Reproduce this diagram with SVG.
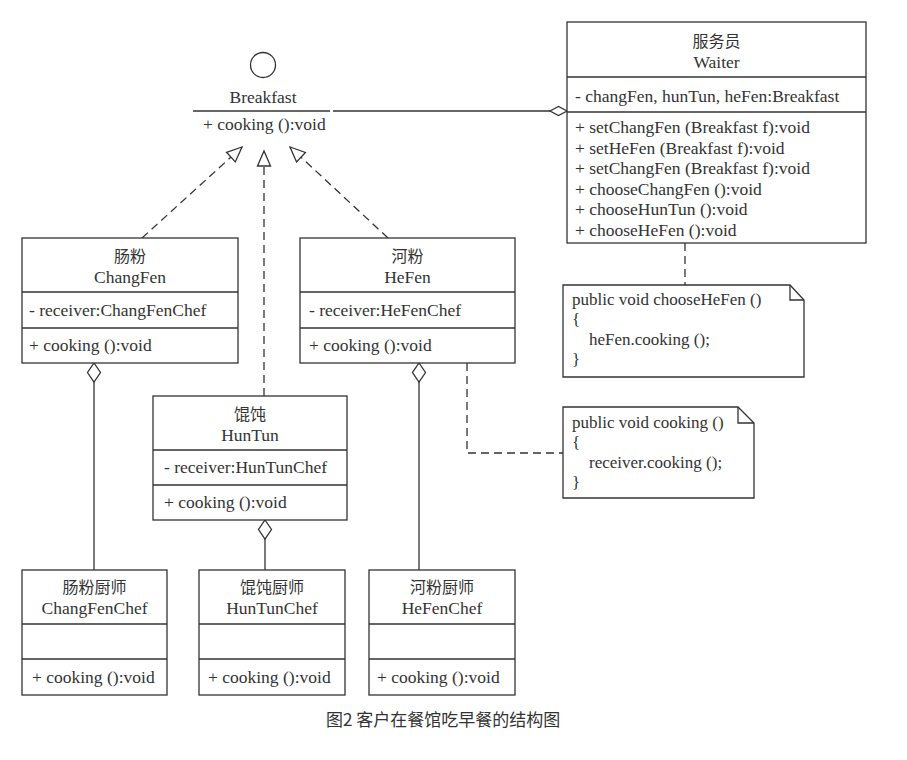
<svg xmlns="http://www.w3.org/2000/svg" width="907" height="760" viewBox="0 0 907 760">
<style>
.bg{fill:#fff}
.box{fill:#fff;stroke:#333;stroke-width:1.3}
.div{stroke:#333;stroke-width:1.3;fill:none}
.t{font-family:"Liberation Serif","Noto Sans CJK SC",serif;font-size:17.5px;fill:#333}
.cn{font-family:"Noto Sans CJK SC","Liberation Serif",sans-serif;font-size:16px;fill:#333}
.c{text-anchor:middle}
.n{font-family:"Liberation Serif",serif;font-size:17px;fill:#333}
.ln{stroke:#333;stroke-width:1.3;fill:none}
.dash{stroke:#333;stroke-width:1.3;fill:none;stroke-dasharray:8 5}
.dia{fill:#fff;stroke:#333;stroke-width:1.3}
.cap{font-family:"Noto Sans CJK SC","Noto Sans",sans-serif;font-size:17px;fill:#333}
</style>
<defs>
<marker id="tri" markerWidth="20" markerHeight="18" refX="16" refY="8" orient="auto" markerUnits="userSpaceOnUse">
<path d="M1,1.5 L16,8 L1,14.5 Z" fill="#fff" stroke="#333" stroke-width="1.3" stroke-dasharray="none"/>
</marker>
</defs>
<rect class="bg" x="0" y="0" width="907" height="760"/>

<g id="connectors">
<line class="ln" x1="333" y1="111" x2="551" y2="111"/>
<polygon class="dia" points="550,111 558.5,106.5 567,111 558.5,115.5"/>
<line class="dash" x1="142" y1="238" x2="242" y2="147" marker-end="url(#tri)"/>
<line class="dash" x1="264" y1="396" x2="264" y2="151" marker-end="url(#tri)"/>
<line class="dash" x1="388" y1="238" x2="290" y2="147" marker-end="url(#tri)"/>
<line class="ln" x1="94" y1="382" x2="94" y2="570"/>
<polygon class="dia" points="94,363 100.5,372.5 94,382 87.5,372.5"/>
<line class="ln" x1="265" y1="539" x2="265" y2="570"/>
<polygon class="dia" points="265,520 271.5,529.5 265,539 258.5,529.5"/>
<line class="ln" x1="419" y1="382" x2="419" y2="570"/>
<polygon class="dia" points="419,363 425.5,372.5 419,382 412.5,372.5"/>
<line class="dash" x1="685" y1="243" x2="685" y2="285"/>
<polyline class="dash" points="467,363 467,453 563,453"/>
</g>

<g id="breakfast">
<circle cx="263" cy="65" r="12.5" fill="#fff" stroke="#333" stroke-width="1.3"/>
<text class="t c" x="263" y="103">Breakfast</text>
<line class="ln" x1="193" y1="111" x2="330" y2="111"/>
<text class="t" x="203" y="130">+ cooking ():void</text>
</g>

<g id="waiter">
<rect class="box" x="567" y="22" width="299" height="221"/>
<line class="div" x1="567" y1="77" x2="866" y2="77"/>
<line class="div" x1="567" y1="112" x2="866" y2="112"/>
<text class="cn c" x="716.5" y="47">服务员</text>
<text class="t c" x="716.5" y="68">Waiter</text>
<text class="t" x="575" y="102">- changFen, hunTun, heFen:Breakfast</text>
<text class="t" x="575" y="133">+ setChangFen (Breakfast f):void</text>
<text class="t" x="575" y="154">+ setHeFen (Breakfast f):void</text>
<text class="t" x="575" y="174">+ setChangFen (Breakfast f):void</text>
<text class="t" x="575" y="195">+ chooseChangFen ():void</text>
<text class="t" x="575" y="215">+ chooseHunTun ():void</text>
<text class="t" x="575" y="236">+ chooseHeFen ():void</text>
</g>

<g id="changfen">
<rect class="box" x="22" y="238" width="216" height="125"/>
<line class="div" x1="22" y1="292" x2="238" y2="292"/>
<line class="div" x1="22" y1="328" x2="238" y2="328"/>
<text class="cn c" x="130" y="262">肠粉</text>
<text class="t c" x="130" y="283">ChangFen</text>
<text class="t" x="29" y="316">- receiver:ChangFenChef</text>
<text class="t" x="29" y="351">+ cooking ():void</text>
</g>

<g id="hefen">
<rect class="box" x="300" y="238" width="215" height="125"/>
<line class="div" x1="300" y1="292" x2="515" y2="292"/>
<line class="div" x1="300" y1="328" x2="515" y2="328"/>
<text class="cn c" x="407.5" y="262">河粉</text>
<text class="t c" x="407.5" y="283">HeFen</text>
<text class="t" x="309" y="316">- receiver:HeFenChef</text>
<text class="t" x="309" y="351">+ cooking ():void</text>
</g>

<g id="huntun">
<rect class="box" x="153" y="396" width="194" height="124"/>
<line class="div" x1="153" y1="450" x2="347" y2="450"/>
<line class="div" x1="153" y1="485" x2="347" y2="485"/>
<text class="cn c" x="250" y="420">馄饨</text>
<text class="t c" x="250" y="441">HunTun</text>
<text class="t" x="164" y="473">- receiver:HunTunChef</text>
<text class="t" x="164" y="508">+ cooking ():void</text>
</g>

<g id="changfenchef">
<rect class="box" x="22" y="570" width="145" height="125"/>
<line class="div" x1="22" y1="624" x2="167" y2="624"/>
<line class="div" x1="22" y1="659" x2="167" y2="659"/>
<text class="cn c" x="94.5" y="593">肠粉厨师</text>
<text class="t c" x="94.5" y="614">ChangFenChef</text>
<text class="t" x="32" y="683">+ cooking ():void</text>
</g>

<g id="huntunchef">
<rect class="box" x="199" y="570" width="146" height="125"/>
<line class="div" x1="199" y1="624" x2="345" y2="624"/>
<line class="div" x1="199" y1="659" x2="345" y2="659"/>
<text class="cn c" x="272" y="593">馄饨厨师</text>
<text class="t c" x="272" y="614">HunTunChef</text>
<text class="t" x="208" y="683">+ cooking ():void</text>
</g>

<g id="hefenchef">
<rect class="box" x="369" y="570" width="146" height="125"/>
<line class="div" x1="369" y1="624" x2="515" y2="624"/>
<line class="div" x1="369" y1="659" x2="515" y2="659"/>
<text class="cn c" x="442" y="593">河粉厨师</text>
<text class="t c" x="442" y="614">HeFenChef</text>
<text class="t" x="377" y="683">+ cooking ():void</text>
</g>

<g id="note-choosehefen">
<path class="box" d="M563,285 H790 L804,300 V377 H563 Z"/>
<path class="div" d="M790,285 V300 H804"/>
<text class="n" x="572" y="305">public void chooseHeFen ()</text>
<text class="n" x="572" y="325">{</text>
<text class="n" x="589" y="345">heFen.cooking ();</text>
<text class="n" x="572" y="365">}</text>
</g>

<g id="note-cooking">
<path class="box" d="M563,407 H738 L754,423 V498 H563 Z"/>
<path class="div" d="M738,407 V423 H754"/>
<text class="n" x="572" y="428">public void cooking ()</text>
<text class="n" x="572" y="448">{</text>
<text class="n" x="589" y="468">receiver.cooking ();</text>
<text class="n" x="572" y="488">}</text>
</g>

<text id="caption" class="cap" x="326" y="726">图2 客户在餐馆吃早餐的结构图</text>
</svg>
